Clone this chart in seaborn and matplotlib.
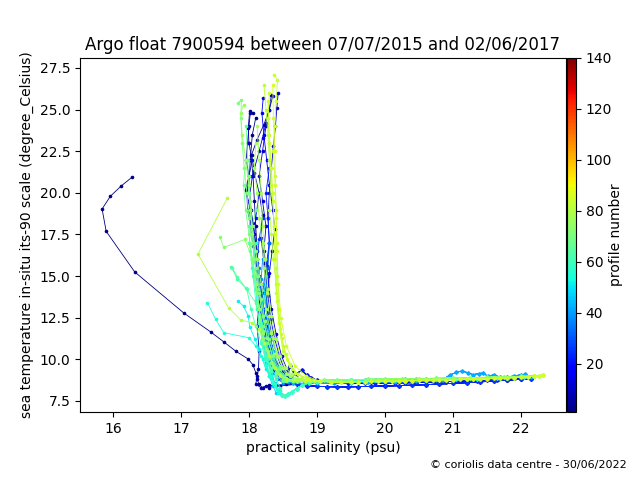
import matplotlib
matplotlib.use("Agg")
import matplotlib.pyplot as plt
import seaborn as sns
import pandas as pd
from matplotlib.colors import Normalize
from matplotlib.cm import ScalarMappable

title = "Argo float 7900594 between 07/07/2015 and 02/06/2017"
x_label = "practical salinity (psu)"
y_label = "sea temperature in-situ its-90 scale (degree_Celsius)"
cbar_label = "profile number"
credit = "\u00a9 coriolis data centre - 30/06/2022"
x_ticks = [16, 17, 18, 19, 20, 21, 22]
y_ticks = [7.5, 10.0, 12.5, 15.0, 17.5, 20.0, 22.5, 25.0, 27.5]
cbar_ticks = [20, 40, 60, 80, 100, 120, 140]
profile_min, profile_max = 1, 140

# deep-water tails (salinity, temperature)
tail_sal = [
    [18.7, 18.85, 19.0, 19.15, 19.3, 19.45, 19.6, 19.8, 20.0, 20.2, 20.4, 20.6, 20.8, 21.0, 21.2, 21.4, 21.6, 21.8, 22.0, 22.15],
    [18.6, 18.66, 18.62, 18.7, 18.78, 18.85, 18.92, 19.0, 19.1, 19.25, 19.45, 19.7, 19.85, 20.0, 20.15, 20.3, 20.45, 20.6, 20.75, 20.9, 21.05, 21.2, 21.35, 21.5, 21.65, 21.8, 22.0],
    [18.65, 18.8, 19.0, 19.25, 19.5, 19.75, 20.0, 20.15, 20.3, 20.45, 20.6, 20.75, 20.85, 20.95, 21.05, 21.13, 21.22, 21.3, 21.38, 21.44, 21.52, 21.6, 21.7, 21.8, 21.9, 22.0, 22.06, 22.15],
    [18.48, 18.53, 18.58, 18.63, 18.7, 18.78, 18.88, 19.0, 19.2, 19.35, 19.5, 19.7, 19.85, 20.0, 20.15, 20.3, 20.45, 20.6, 20.75, 20.9, 21.05, 21.2, 21.35, 21.5, 21.65, 21.8, 22.05],
    [18.7, 18.82, 18.95, 19.1, 19.3, 19.5, 19.75, 20.0, 20.25, 20.5, 20.75, 21.0, 21.25, 21.5, 21.75, 22.0, 22.2],
    [19.05, 19.2, 19.35, 19.5, 19.6, 19.7, 19.8, 19.9, 20.0, 20.1, 20.2, 20.3, 20.4, 20.5, 20.6, 20.7, 20.8, 20.9, 21.0, 21.1, 21.2, 21.3, 21.4, 21.5, 21.6, 21.7, 21.8, 21.9, 22.0, 22.1, 22.2, 22.27, 22.32],
]
tail_temp = [
    [8.5, 8.42, 8.38, 8.36, 8.35, 8.35, 8.36, 8.38, 8.4, 8.42, 8.45, 8.48, 8.52, 8.56, 8.6, 8.65, 8.7, 8.75, 8.8, 8.83],
    [9.6, 9.2, 8.95, 9.15, 9.35, 9.05, 8.9, 8.75, 8.68, 8.62, 8.58, 8.56, 8.56, 8.57, 8.58, 8.59, 8.6, 8.62, 8.64, 8.66, 8.68, 8.7, 8.72, 8.74, 8.76, 8.79, 8.84],
    [8.6, 8.55, 8.56, 8.58, 8.6, 8.62, 8.64, 8.65, 8.66, 8.68, 8.7, 8.74, 8.78, 9.05, 9.22, 9.3, 9.2, 9.08, 9.15, 9.18, 8.98, 9.08, 8.92, 8.95, 9.0, 9.08, 9.1, 8.95],
    [7.85, 7.8, 7.9, 8.05, 8.25, 8.45, 8.58, 8.65, 8.7, 8.72, 8.74, 8.76, 8.77, 8.78, 8.79, 8.8, 8.8, 8.81, 8.82, 8.82, 8.83, 8.84, 8.85, 8.86, 8.88, 8.9, 8.93],
    [8.72, 8.7, 8.72, 8.74, 8.76, 8.78, 8.8, 8.82, 8.84, 8.85, 8.86, 8.88, 8.9, 8.92, 8.95, 8.98, 9.0],
    [8.68, 8.65, 8.64, 8.65, 8.66, 8.67, 8.68, 8.69, 8.7, 8.7, 8.71, 8.72, 8.73, 8.74, 8.75, 8.76, 8.77, 8.78, 8.79, 8.8, 8.81, 8.82, 8.83, 8.85, 8.86, 8.88, 8.89, 8.91, 8.93, 8.95, 8.98, 9.02, 9.06],
]

# upper (surface to thermocline) part of each profile
profile_numbers = [1, 2, 3, 5, 7, 9, 10, 12, 15, 18, 20, 22, 26, 33, 36, 38, 42, 45, 47,
                   51, 53, 55, 58, 60, 62, 64, 66, 67, 69, 71, 72, 73, 75, 77, 78,
                   80, 81, 82, 83, 84, 85]
profile_tail = [0, 0, 0, 1, 0, 1, 1, 0, 1, 0, 0, 1, 0, 2, 2, 2, 2, 3, 3,
                3, 3, 3, 3, 3, 4, 4, 4, 4, 4, 4, 4, 4, 5, 5, 5,
                5, 5, 5, 5, 5, 5]
upper_sal = [
    [16.28, 16.12, 15.96, 15.84, 15.90, 16.32, 17.04, 17.44, 17.64, 17.81, 17.99, 18.06, 18.10, 18.12, 18.15, 18.2, 18.3, 18.45],
    [18.1, 18.05, 18.02, 18.0, 18.03, 18.08, 18.12, 18.18, 18.22, 18.28, 18.35, 18.42, 18.5],
    [18.06, 18.01, 17.99, 18.0, 18.03, 18.06, 18.08, 18.1, 18.12, 18.11, 18.16, 18.2, 18.24, 18.3, 18.36, 18.45, 18.55],
    [18.33, 18.3, 18.22, 18.12, 18.04, 18.08, 18.15, 18.2, 18.18, 18.22, 18.25, 18.28, 18.3, 18.36, 18.45, 18.52],
    [18.02, 18.0, 17.98, 17.96, 18.0, 17.95, 18.02, 18.06, 18.1, 18.14, 18.16, 18.12, 18.15, 18.14, 18.12, 18.1, 18.18, 18.25, 18.3, 18.4, 18.55],
    [18.43, 18.41, 18.39, 18.36, 18.33, 18.3, 18.28, 18.3, 18.27, 18.25, 18.28, 18.33, 18.4, 18.48, 18.55],
    [18.25, 18.2, 18.15, 18.2, 18.25, 18.22, 18.28, 18.33, 18.4, 18.48, 18.56],
    [18.35, 18.3, 18.25, 18.2, 18.15, 18.05, 18.0, 18.03, 18.1, 18.15, 18.2, 18.25, 18.32, 18.4, 18.5],
    [18.21, 18.19, 18.22, 18.26, 18.3, 18.35, 18.38, 18.34, 18.3, 18.28, 18.32, 18.38, 18.45, 18.52, 18.58],
    [18.05, 18.0, 17.97, 17.98, 18.02, 18.06, 18.1, 18.15, 18.18, 18.22, 18.3, 18.4, 18.5, 18.58, 18.6],
    [18.15, 18.1, 18.08, 18.12, 18.18, 18.2, 18.25, 18.3, 18.38, 18.45, 18.52],
    [18.3, 18.25, 18.28, 18.3, 18.25, 18.2, 18.22, 18.27, 18.33, 18.4, 18.46, 18.52],
    [18.2, 18.15, 18.12, 18.16, 18.2, 18.25, 18.3, 18.36, 18.44, 18.52, 18.6],
    [18.3, 18.28, 18.25, 18.27, 18.32, 18.38, 18.45, 18.5, 18.55],
    [18.15, 18.12, 18.15, 18.2, 18.25, 18.3, 18.36, 18.42, 18.5],
    [18.2, 18.18, 18.2, 18.24, 18.3, 18.36, 18.42, 18.5, 18.58],
    [18.22, 18.25, 18.3, 18.35, 18.4, 18.48, 18.56],
    [18.2, 18.18, 18.22, 18.28, 18.33, 18.38, 18.42],
    [18.25, 18.22, 18.2, 18.22, 18.25, 18.3, 18.35, 18.4],
    [17.84, 17.92, 17.99, 18.01, 18.09, 18.15, 18.2, 18.25, 18.32, 18.38, 18.45],
    [18.05, 18.1, 18.12, 18.18, 18.22, 18.28, 18.33, 18.38, 18.43],
    [17.39, 17.51, 17.63, 18.0, 18.1, 18.18, 18.25, 18.3, 18.38, 18.45],
    [18.1, 18.05, 18.1, 18.15, 18.2, 18.18, 18.24, 18.3, 18.36, 18.42],
    [18.0, 18.02, 18.06, 18.1, 18.15, 18.2, 18.26, 18.32, 18.4, 18.46],
    [17.74, 17.83, 17.97, 18.03, 18.1, 18.18, 18.25, 18.32, 18.4, 18.5],
    [17.75, 17.83, 17.95, 18.1, 18.15, 18.2, 18.28, 18.35, 18.45, 18.55],
    [17.96, 17.98, 18.0, 18.04, 18.08, 18.14, 18.2, 18.27, 18.34, 18.42, 18.52, 18.62],
    [18.1, 18.05, 18.0, 18.05, 18.1, 18.12, 18.15, 18.2, 18.26, 18.32, 18.4, 18.48, 18.58],
    [17.95, 17.92, 17.95, 18.0, 18.05, 18.1, 18.15, 18.2, 18.25, 18.32, 18.4, 18.5],
    [17.84, 17.89, 17.88, 17.9, 17.93, 17.97, 18.0, 18.05, 18.1, 18.15, 18.2, 18.27, 18.35, 18.45, 18.55, 18.65],
    [18.0, 18.02, 18.05, 18.1, 18.14, 18.18, 18.24, 18.3, 18.37, 18.45, 18.55, 18.65],
    [17.57, 17.63, 17.94, 18.05, 18.1, 18.15, 18.2, 18.28, 18.36, 18.45, 18.55],
    [17.92, 17.88, 17.9, 17.95, 18.0, 18.02, 18.05, 18.12, 18.18, 18.25, 18.32, 18.4, 18.5, 18.6, 18.74, 18.9],
    [18.1, 18.08, 18.12, 18.15, 18.2, 18.22, 18.26, 18.3, 18.36, 18.42, 18.5, 18.58, 18.7, 18.85],
    [18.12, 18.15, 18.18, 18.2, 18.24, 18.28, 18.33, 18.4, 18.46, 18.54, 18.63, 18.75, 18.9],
    [17.68, 17.25, 17.70, 17.88, 18.05, 18.15, 18.22, 18.3, 18.38, 18.46, 18.55, 18.66, 18.82],
    [18.22, 18.25, 18.28, 18.3, 18.32, 18.3, 18.33, 18.36, 18.4, 18.43, 18.47, 18.54, 18.64, 18.78, 18.9],
    [18.28, 18.3, 18.32, 18.35, 18.38, 18.4, 18.42, 18.45, 18.5, 18.6, 18.72, 18.88],
    [18.37, 18.42, 18.4, 18.38, 18.36, 18.38, 18.4, 18.41, 18.42, 18.44, 18.48, 18.56, 18.68, 18.84, 18.95],
    [18.3, 18.28, 18.3, 18.33, 18.35, 18.37, 18.38, 18.4, 18.44, 18.5, 18.6, 18.72, 18.86],
    [18.35, 18.36, 18.38, 18.39, 18.4, 18.41, 18.43, 18.47, 18.55, 18.68, 18.84],
]
upper_temp = [
    [20.94, 20.41, 19.79, 19.03, 17.69, 15.25, 12.79, 11.64, 11.02, 10.48, 10.02, 9.66, 9.2, 8.8, 8.5, 8.3, 8.45, 8.4],
    [24.5, 23.5, 22.0, 20.5, 19.0, 17.5, 16.0, 14.5, 13.0, 11.5, 10.3, 9.4, 8.9],
    [24.8, 24.9, 23.9, 23.0, 22.3, 21.0, 19.5, 18.0, 16.5, 15.0, 13.5, 12.2, 11.0, 10.0, 9.3, 8.9, 8.6],
    [25.9, 25.0, 24.1, 23.2, 22.3, 21.2, 20.0, 18.7, 17.3, 15.8, 14.3, 12.8, 11.4, 10.2, 9.4, 8.9],
    [24.8, 24.0, 23.0, 22.0, 21.0, 20.2, 19.0, 18.2, 17.0, 15.5, 14.0, 12.0, 10.5, 9.4, 9.0, 8.5, 8.3, 8.4, 8.3, 8.45, 8.5],
    [26.0, 25.1, 24.0, 22.8, 21.5, 20.0, 18.5, 17.0, 15.6, 14.2, 12.8, 11.5, 10.4, 9.5, 8.9],
    [24.0, 22.5, 21.0, 19.5, 18.0, 16.5, 15.0, 13.0, 11.5, 10.2, 9.4],
    [25.8, 25.0, 24.2, 23.3, 22.5, 21.0, 19.5, 18.0, 16.5, 15.0, 13.5, 12.0, 10.8, 9.7, 9.0],
    [25.7, 24.8, 23.5, 22.0, 20.5, 19.0, 17.8, 16.5, 15.2, 13.8, 12.4, 11.2, 10.2, 9.4, 8.9],
    [22.0, 21.0, 20.0, 19.0, 18.0, 16.8, 15.5, 14.0, 12.8, 11.6, 10.6, 9.8, 9.3, 9.0, 8.75],
    [20.0, 18.5, 17.0, 15.5, 14.0, 12.5, 11.2, 10.2, 9.4, 8.9, 8.6],
    [21.5, 20.0, 18.5, 17.0, 15.5, 14.0, 12.5, 11.2, 10.2, 9.5, 9.0, 8.7],
    [18.5, 17.2, 15.8, 14.4, 13.0, 11.8, 10.8, 10.0, 9.4, 9.0, 8.8],
    [17.0, 15.5, 14.0, 12.5, 11.2, 10.2, 9.5, 9.0, 8.7],
    [15.5, 14.2, 13.0, 11.8, 10.8, 9.9, 9.2, 8.8, 8.6],
    [16.0, 14.8, 13.5, 12.2, 11.0, 10.0, 9.3, 8.9, 8.65],
    [14.5, 13.0, 11.6, 10.5, 9.6, 9.0, 8.7],
    [13.5, 12.2, 11.0, 10.0, 9.2, 8.6, 8.2],
    [15.0, 13.5, 12.0, 10.8, 9.8, 9.0, 8.4, 8.0],
    [13.5, 13.2, 12.6, 11.97, 11.2, 10.6, 10.0, 9.4, 8.9, 8.5, 8.1],
    [16.0, 14.5, 13.0, 11.8, 10.8, 9.8, 9.0, 8.4, 8.0],
    [13.4, 12.4, 11.6, 11.3, 10.8, 10.2, 9.6, 9.0, 8.5, 8.05],
    [17.0, 15.5, 14.2, 13.0, 12.0, 11.0, 10.0, 9.2, 8.6, 8.2],
    [18.0, 16.5, 15.0, 13.5, 12.2, 11.0, 10.0, 9.3, 8.8, 8.3],
    [15.57, 14.8, 14.2, 13.0, 12.0, 11.0, 10.2, 9.5, 9.0, 8.7],
    [15.5, 14.97, 14.3, 13.4, 12.3, 11.3, 10.4, 9.7, 9.1, 8.8],
    [24.0, 22.0, 20.0, 18.0, 16.0, 14.2, 12.6, 11.3, 10.2, 9.4, 8.95, 8.75],
    [19.0, 18.0, 17.0, 16.0, 15.0, 14.0, 13.0, 12.0, 11.0, 10.2, 9.5, 9.0, 8.75],
    [22.0, 20.5, 19.0, 17.5, 16.0, 14.5, 13.0, 11.7, 10.6, 9.8, 9.2, 8.8],
    [25.4, 25.6, 24.5, 23.0, 21.5, 20.0, 18.5, 17.0, 15.5, 14.0, 12.6, 11.3, 10.2, 9.4, 8.9, 8.7],
    [21.0, 19.5, 18.0, 16.5, 15.0, 13.6, 12.3, 11.2, 10.3, 9.6, 9.1, 8.85],
    [17.37, 16.73, 17.2, 16.0, 14.5, 13.0, 11.6, 10.5, 9.6, 9.0, 8.7],
    [25.3, 24.8, 23.5, 22.0, 20.5, 19.0, 17.5, 16.0, 14.5, 13.0, 11.6, 10.4, 9.5, 9.0, 8.8, 8.72],
    [23.0, 21.5, 20.0, 18.5, 17.0, 15.5, 14.0, 12.6, 11.3, 10.2, 9.5, 9.1, 8.85, 8.74],
    [24.0, 22.0, 20.0, 18.0, 16.0, 14.2, 12.6, 11.2, 10.2, 9.5, 9.1, 8.85, 8.72],
    [19.67, 16.33, 13.1, 12.36, 12.2, 11.8, 11.0, 10.2, 9.5, 9.05, 8.85, 8.75, 8.7],
    [26.5, 25.0, 23.5, 22.0, 20.5, 19.0, 17.5, 16.0, 14.5, 13.0, 11.5, 10.3, 9.4, 8.95, 8.78],
    [25.5, 23.5, 21.5, 19.5, 17.5, 15.5, 13.5, 11.8, 10.5, 9.6, 9.1, 8.8],
    [27.1, 26.8, 25.5, 24.0, 22.5, 21.0, 19.0, 17.0, 15.0, 13.0, 11.3, 10.0, 9.2, 8.85, 8.75],
    [26.0, 24.5, 23.0, 21.5, 20.0, 18.0, 16.0, 14.0, 12.2, 10.8, 9.7, 9.1, 8.8],
    [26.5, 24.5, 22.5, 20.5, 18.5, 16.5, 14.5, 12.5, 10.8, 9.6, 9.0],
]

rows = []
for num, tail, us, ut in zip(profile_numbers, profile_tail, upper_sal, upper_temp):
    sal = us + tail_sal[tail]
    tem = ut + tail_temp[tail]
    for i, (s, t) in enumerate(zip(sal, tem)):
        rows.append({"profile": num, "order": i, "sal": s, "temp": t})
df = pd.DataFrame(rows)

jet = matplotlib.colormaps["jet"]

fig = plt.figure(figsize=(6.4, 4.8), dpi=100)
ax = fig.add_axes([0.125, 0.1417, 0.759, 0.7375])
cax = fig.add_axes([0.8859, 0.1417, 0.014, 0.7375])

sns.lineplot(data=df, x="sal", y="temp", hue="profile", units="profile",
             estimator=None, sort=False, palette=jet,
             hue_norm=(profile_min, profile_max), legend=False,
             marker="o", markersize=2.6, markeredgewidth=0,
             linewidth=0.6, ax=ax)

ax.set_xlim(15.515, 22.66)
ax.set_ylim(6.84, 28.1)
ax.set_xticks(x_ticks)
ax.set_yticks(y_ticks)
ax.set_xlabel(x_label, fontsize=10)
ax.set_ylabel(y_label, fontsize=10)
ax.set_title(title, fontsize=12)

sm = ScalarMappable(norm=Normalize(profile_min, profile_max), cmap=jet)
sm.set_array([])
cb = fig.colorbar(sm, cax=cax, ticks=cbar_ticks)
cb.set_label(cbar_label, fontsize=10, labelpad=-2)
cb.outline.set_linewidth(0.8)

fig.text(0.98, 0.031, credit, ha="right", va="center", fontsize=8)

fig.savefig("out.png", dpi=100)
